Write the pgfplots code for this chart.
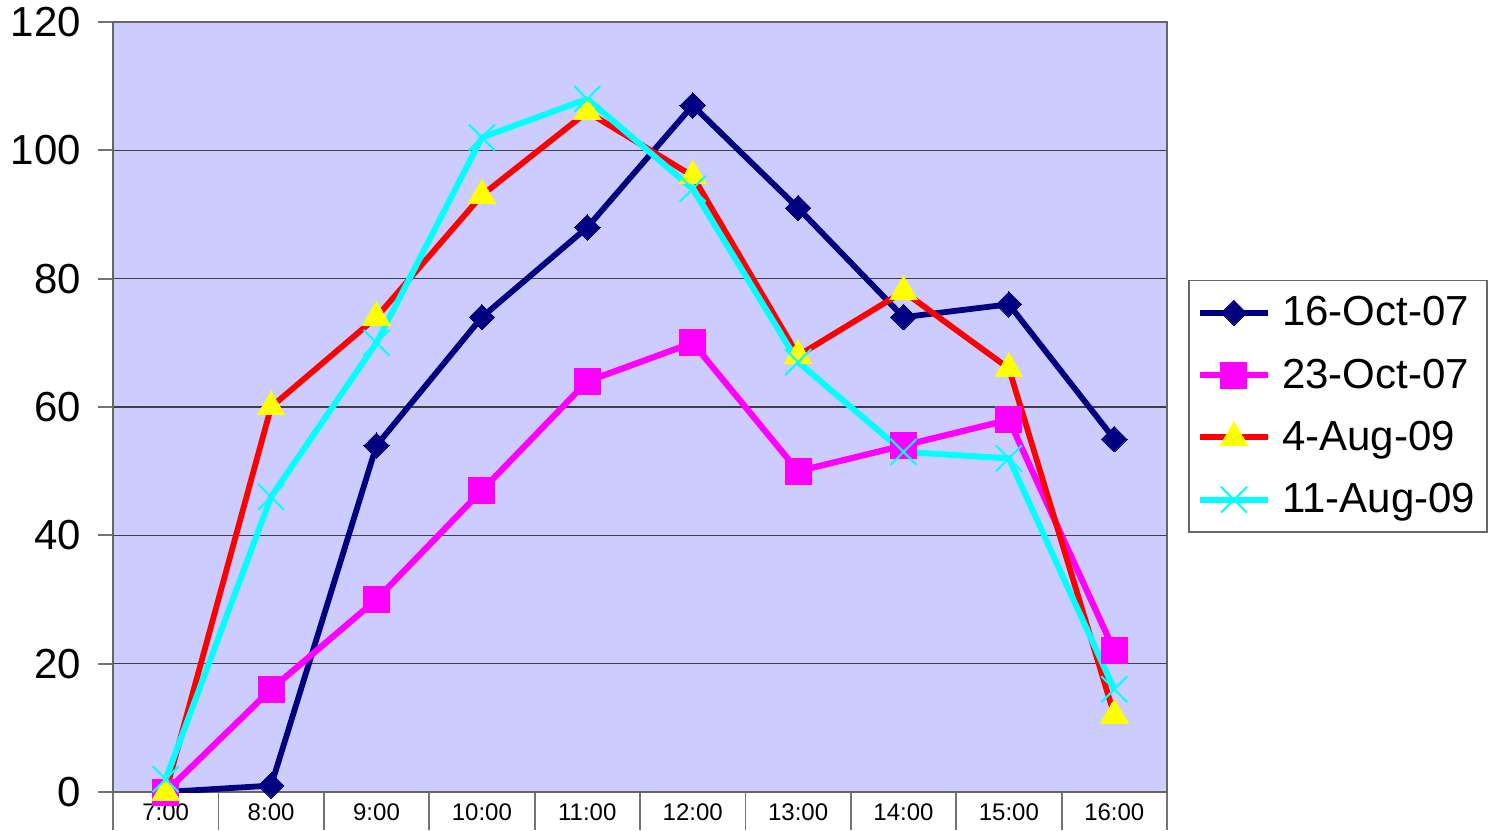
\documentclass[border=0pt]{standalone}
\usepackage{fontspec}
\setmainfont{Liberation Sans}
\usepackage{pgfplots}
\pgfplotsset{compat=1.18}

\definecolor{plotbg}{RGB}{204,204,255}
\definecolor{navyline}{RGB}{0,0,128}
\definecolor{pinkline}{RGB}{255,0,255}
\definecolor{cyanline}{RGB}{0,255,255}
\definecolor{redline}{RGB}{255,0,0}
\definecolor{yellowmark}{RGB}{255,255,0}

\begin{document}
\begin{tikzpicture}
\useasboundingbox (0,0) rectangle (745.5pt,415pt);
\begin{axis}[
    at={(56.5pt,19pt)},
    anchor=south west,
    width=527pt,
    height=385pt,
    scale only axis,
    xmin=-0.5, xmax=9.5,
    ymin=0, ymax=120,
    xtick={0,...,9},
    xticklabels={7:00,8:00,9:00,10:00,11:00,12:00,13:00,14:00,15:00,16:00},
    minor xtick={-0.5,0.5,...,9.5},
    ytick={0,20,...,120},
    tick pos=lower,
    tick align=outside,
    major tick length=7.5pt,
    minor tick length=19pt,
    tick style={black!55, line width=0.9pt},
    major x tick style={draw=none},
    ymajorgrids,
    grid style={black!75, line width=0.6pt},
    axis line style={black!60, line width=0.9pt},
    axis background/.style={fill=plotbg},
    /pgf/number format/assume math mode=true,
    yticklabel style={font=\fontsize{21}{25}\selectfont, xshift=-5pt},
    xticklabel style={font=\fontsize{12}{14}\selectfont, yshift=5pt},
    legend cell align=left,
    legend style={
        at={(1.02,0.501)}, anchor=west,
        draw=black!60, line width=0.8pt,
        font=\fontsize{21}{25}\selectfont,
        row sep=11pt,
        inner xsep=4pt,
        inner ysep=6pt,
        /tikz/every odd column/.append style={column sep=3.5pt},
    },
    legend image code/.code={
        \draw[mark repeat=2, mark phase=2, #1]
            plot coordinates {(0pt,0pt) (17pt,0pt) (34pt,0pt)};
    },
]

\addplot[color=navyline, line width=2.9pt,
    mark=square*, mark size=4.5pt,
    mark options={rotate=45, draw=navyline, fill=navyline, line width=0pt}]
coordinates {
    (0,0) (1,1) (2,54) (3,74) (4,88) (5,107) (6,91) (7,74) (8,76) (9,55)
};
\addlegendentry{16-Oct-07}

\addplot[color=pinkline, line width=3.1pt,
    mark=square*, mark size=6.5pt,
    mark options={draw=pinkline, fill=pinkline, line width=0pt}]
coordinates {
    (0,0) (1,16) (2,30) (3,47) (4,64) (5,70) (6,50) (7,54) (8,58) (9,22)
};
\addlegendentry{23-Oct-07}

\addplot[color=redline, line width=2.9pt,
    mark=triangle*, mark size=8pt,
    mark options={draw=yellowmark, fill=yellowmark, line width=0pt}]
coordinates {
    (0,0) (1,60) (2,74) (3,93) (4,106) (5,96) (6,68) (7,78) (8,66) (9,12)
};
\addlegendentry{4-Aug-09}

\addplot[color=cyanline, line width=3pt,
    mark=x, mark size=9.2pt,
    mark options={draw=cyanline, line width=1pt}]
coordinates {
    (0,2) (1,46) (2,70) (3,102) (4,108) (5,94) (6,67) (7,53) (8,52) (9,16)
};
\addlegendentry{11-Aug-09}

\end{axis}
\end{tikzpicture}
\end{document}
